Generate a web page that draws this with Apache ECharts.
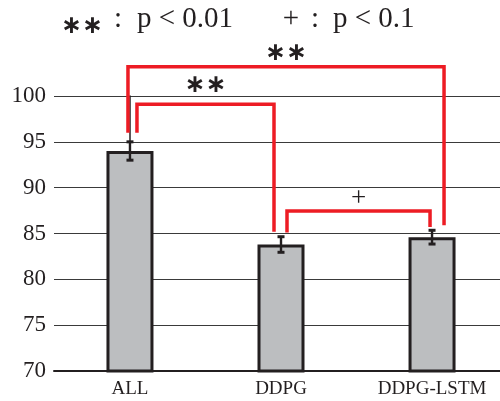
<!DOCTYPE html>
<html><head><meta charset="utf-8">
<script src="https://cdn.jsdelivr.net/npm/echarts@6/dist/echarts.min.js"></script>
<style>html,body{margin:0;padding:0;background:#fff}#c{width:500px;height:401px}</style>
</head><body><div id="c"></div>
<script>
// ---- data ----
const categories = ['ALL', 'DDPG', 'DDPG-LSTM'];
const means = [94.0, 83.8, 84.6];
const errors = [1.0, 0.85, 0.75];
const yTicks = [70, 75, 80, 85, 90, 95, 100];
// significance brackets (values in data units)
const bracketFrom = [0, 0, 1];
const bracketTo = [2, 1, 2];
const bracketTop = [103.2, 99.1, 87.45];
const bracketLeftEnd = [96.0, 96.0, 85.1];
const bracketRightEnd = [85.9, 85.2, 85.7];
const bracketLabels = ['∗∗', '∗∗', '+'];
const legendSymbols = ['∗∗', '+'];
const legendTexts = ['p < 0.01', 'p < 0.1'];

// ---- styles (pixel offsets) ----
const bracketLeftOffset = [-2, 7, 6];
const bracketRightOffset = [12, -7, -2];
const bracketLabelGap = [13, 19, 12];
const xRange = [-0.503, 2.45];

const INK = '#231f20';
const RED = '#ed1c24';
const SERIF = '"Liberation Serif", "Times New Roman", serif';
const STAR = '"DejaVu Sans", sans-serif';

const chart = echarts.init(document.getElementById('c'), null, {renderer: 'canvas'});

const catIdx = categories.map((c, i) => i);
const barData = means.map((m, i) => [i, m]);
const errData = categories.map((c, i) => [i, means[i] - errors[i], means[i] + errors[i]]);
const bracketData = bracketFrom.map((f, i) => [f, bracketTo[i], bracketTop[i], bracketLeftEnd[i], bracketRightEnd[i], i]);

function labelFont(k) {
  return bracketLabels[k] === '+' ? '27px ' + SERIF : 'bold 25px ' + STAR;
}

chart.setOption({
  animation: false,
  backgroundColor: '#fff',
  grid: {left: 54, right: 0, top: 96, bottom: 30, containLabel: false},
  xAxis: {
    type: 'value', min: xRange[0], max: xRange[1],
    axisLine: {show: true, onZero: false, lineStyle: {color: INK, width: 2}},
    axisTick: {show: false},
    splitLine: {show: false},
    axisLabel: {
      customValues: catIdx, hideOverlap: false,
      formatter: v => categories[Math.round(v)] || '',
      color: INK, fontFamily: SERIF, fontSize: 19, margin: 9
    }
  },
  yAxis: {
    type: 'value', min: yTicks[0], max: yTicks[yTicks.length - 1], interval: 5,
    axisLine: {show: true, lineStyle: {color: INK, width: 1.5}},
    axisTick: {show: false},
    axisLabel: {color: INK, fontFamily: SERIF, fontSize: 23, margin: 8},
    splitLine: {show: true, lineStyle: {color: '#3a3a3a', width: 1}}
  },
  graphic: [
    {type: 'text', x: 82, y: 26, style: {text: legendSymbols[0], font: 'bold 25px ' + STAR, fill: INK, align: 'center', verticalAlign: 'middle'}},
    {type: 'text', x: 118, y: 19, style: {text: ':', font: '29px ' + SERIF, fill: INK, align: 'center', verticalAlign: 'middle'}},
    {type: 'text', x: 137, y: 19, style: {text: legendTexts[0], font: '29px ' + SERIF, fill: INK, align: 'left', verticalAlign: 'middle'}},
    {type: 'text', x: 291, y: 19, style: {text: legendSymbols[1], font: '29px ' + SERIF, fill: INK, align: 'center', verticalAlign: 'middle'}},
    {type: 'text', x: 315, y: 19, style: {text: ':', font: '29px ' + SERIF, fill: INK, align: 'center', verticalAlign: 'middle'}},
    {type: 'text', x: 333, y: 19, style: {text: legendTexts[1], font: '29px ' + SERIF, fill: INK, align: 'left', verticalAlign: 'middle'}}
  ],
  series: [
    {
      type: 'bar', data: barData, barWidth: 47,
      itemStyle: {color: '#bcbec0', borderColor: INK, borderWidth: 3},
      z: 2
    },
    {
      type: 'custom', data: errData, z: 3,
      encode: {x: 0, y: [1, 2]},
      renderItem: function (params, api) {
        const lo = api.coord([api.value(0), api.value(1)]);
        const hi = api.coord([api.value(0), api.value(2)]);
        const hw = 3.5;
        return {type: 'group', children: [
          {type: 'line', shape: {x1: lo[0], y1: lo[1], x2: hi[0], y2: hi[1]}, style: {stroke: INK, lineWidth: 2.4}},
          {type: 'line', shape: {x1: lo[0] - hw, y1: lo[1], x2: lo[0] + hw, y2: lo[1]}, style: {stroke: INK, lineWidth: 3}},
          {type: 'line', shape: {x1: hi[0] - hw, y1: hi[1], x2: hi[0] + hw, y2: hi[1]}, style: {stroke: INK, lineWidth: 3}}
        ]};
      }
    },
    {
      type: 'custom', data: bracketData, z: 4, clip: false,
      encode: {x: [0, 1], y: [2, 3, 4]},
      renderItem: function (params, api) {
        const k = api.value(5);
        const pTopL = api.coord([api.value(0), api.value(2)]);
        const pTopR = api.coord([api.value(1), api.value(2)]);
        const pL = api.coord([api.value(0), api.value(3)]);
        const pR = api.coord([api.value(1), api.value(4)]);
        const xl = pTopL[0] + bracketLeftOffset[k];
        const xr = pTopR[0] + bracketRightOffset[k];
        const yt = pTopL[1];
        return {type: 'group', children: [
          {type: 'polyline', shape: {points: [[xl, pL[1]], [xl, yt], [xr, yt], [xr, pR[1]]]},
            style: {stroke: RED, lineWidth: 3.5, fill: null, lineJoin: 'miter'}},
          {type: 'text', x: (xl + xr) / 2, y: yt - bracketLabelGap[k],
            style: {text: bracketLabels[k], font: labelFont(k), fill: INK, align: 'center', verticalAlign: 'middle'}}
        ]};
      }
    }
  ]
});
</script>
</body></html>
